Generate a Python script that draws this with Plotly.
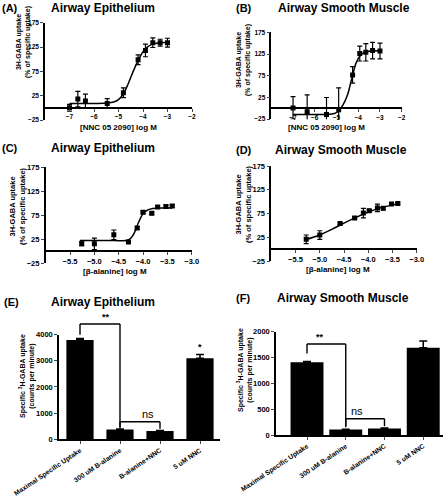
import plotly.graph_objects as go

W, H = 446, 498
FONT = "Liberation Sans, Arial, sans-serif"

# ---------------- data ----------------
# (A) Airway epithelium, NNC 05 2090
A_x = [-7.0, -6.66, -6.35, -5.46, -4.8, -4.2, -3.9, -3.6, -3.3, -3.0]
A_y = [0, 18, 14, 9, 31, 99, 118, 134, 134, 134]
A_err = [7, 16, 14, 10, 10, 10, 13, 10, 7, 9]
A_fit_x = [-7.0, -6.0, -5.5, -5.2, -5.0, -4.8, -4.6, -4.4, -4.2, -4.0, -3.8, -3.6, -3.3, -3.0]
A_fit_y = [9, 9, 10, 12, 17, 29, 50, 75, 97, 115, 126, 131, 134, 134]

# (B) Airway smooth muscle, NNC 05 2090
B_x = [-7.0, -6.35, -5.46, -4.9, -4.26, -3.93, -3.65, -3.34, -3.0]
B_y = [1, -8, -14, -3, 77, 126, 129, 133, 132]
B_err = [26, 39, 39, 50, 19, 17, 20, 19, 18]
B_fit_x = [-7.0, -6.0, -5.4, -5.1, -4.9, -4.7, -4.5, -4.3, -4.1, -3.9, -3.7, -3.4, -3.0]
B_fit_y = [-14, -14, -14, -12, -6, 8, 30, 68, 104, 122, 129, 132, 132]

# (C) Airway epithelium, beta-alanine
C_x = [-5.26, -5.0, -4.6, -4.3, -4.12, -4.0, -3.82, -3.7, -3.53, -3.4]
C_y = [15, 15, 34, 19, 48, 81, 79, 92, 93, 94]
C_err = [4, 12, 10, 2, 3, 3, 3, 3, 3, 3]
C_fit_x = [-5.3, -5.0, -4.6, -4.3, -4.2, -4.1, -4.0, -3.9, -3.8, -3.6, -3.4]
C_fit_y = [22, 22, 22, 23, 34, 58, 78, 86, 89, 90, 90]

# (D) Airway smooth muscle, beta-alanine
D_x = [-5.28, -5.0, -4.58, -4.28, -4.1, -3.98, -3.81, -3.69, -3.52, -3.39]
D_y = [21, 30, 54, 66, 76, 81, 87, 86, 95, 96]
D_err = [9, 9, 2, 2, 10, 3, 8, 3, 2, 2]
D_fit_x = [-5.3, -5.0, -4.75, -4.5, -4.25, -4.0, -3.75, -3.5, -3.4]
D_fit_y = [20, 30, 42, 55, 67, 78, 87, 93, 95]

# (E)/(F) bar charts
bar_labels = ["Maximal Specific Uptake", "300 uM B-alanine", "B-alanine+NNC", "5 uM NNC"]
E_vals = [3790, 375, 320, 3090]
E_err = [60, 20, 15, 150]
F_vals = [1410, 105, 125, 1690]
F_err = [15, 8, 12, 130]

curve_ticks_A = [-7, -6, -5, -4, -3, -2]
curve_ticks_C = [-5.5, -5.0, -4.5, -4.0, -3.5, -3.0]
pct_ticks = [-25, 25, 75, 125, 175]

# ---------------- helpers ----------------
def fx(px):
    return px / W

def fy(py):
    return 1 - py / H

fig = go.Figure()
geom = {}

def curve_panel(n, xs, ys, errs, fx_, fy_, xdom, ydom, xrange, xticks, xfmt, zero_py, tsize):
    xa = "x" if n == 1 else f"x{n}"
    ya = "y" if n == 1 else f"y{n}"
    fig.add_trace(go.Scatter(x=fx_, y=fy_, mode="lines", line=dict(color="black", width=1.5, shape="spline"),
                             xaxis=xa, yaxis=ya, showlegend=False, hoverinfo="skip"))
    fig.add_trace(go.Scatter(x=xs, y=ys, mode="markers",
                             marker=dict(symbol="square", size=5, color="black"),
                             error_y=dict(type="data", array=errs, color="black", thickness=1.2, width=2.5),
                             xaxis=xa, yaxis=ya, showlegend=False, hoverinfo="skip"))
    xk = "xaxis" if n == 1 else f"xaxis{n}"
    yk = "yaxis" if n == 1 else f"yaxis{n}"
    fig.layout[xk] = dict(domain=[fx(xdom[0]), fx(xdom[1])], range=xrange, anchor="free",
                          position=fy(zero_py), tickvals=xticks, tickformat=xfmt, automargin=False,
                          ticks="outside", ticklen=3, tickwidth=1.3, showline=True, linewidth=1.5,
                          linecolor="black", showgrid=False, zeroline=False,
                          tickfont=dict(family=FONT, size=tsize, color="black", weight="bold"))
    fig.layout[yk] = dict(domain=[fy(ydom[1]), fy(ydom[0])], range=[-25, 175], anchor=xa,
                          tickvals=pct_ticks, ticks="outside", ticklen=3, tickwidth=1.3, automargin=False,
                          showline=True, linewidth=1.5, linecolor="black", showgrid=False,
                          zeroline=False, tickfont=dict(family=FONT, size=tsize, color="black", weight="bold"))

curve_panel(1, A_x, A_y, A_err, A_fit_x, A_fit_y, (45, 192), (22.7, 120), [-8, -2], curve_ticks_A, "d", 107.8, 6.5)
curve_panel(2, B_x, B_y, B_err, B_fit_x, B_fit_y, (271.3, 401.7), (32.3, 119.2), [-8, -2], curve_ticks_A, "d", 108.3, 6.5)
curve_panel(3, C_x, C_y, C_err, C_fit_x, C_fit_y, (45.7, 191.7), (167.3, 263), [-6, -3], curve_ticks_C, ".1f", 251, 7.5)
curve_panel(4, D_x, D_y, D_err, D_fit_x, D_fit_y, (271.3, 416.7), (166, 261.2), [-6, -3], curve_ticks_C, ".1f", 249.3, 7.5)

def bar_panel(n, vals, errs, xdom, ydom, xrange, yrange, ytick, width):
    xa, ya = f"x{n}", f"y{n}"
    geom[n] = (xdom, ydom, xrange, yrange)
    pos = list(range(len(vals)))
    fig.add_trace(go.Bar(x=pos, y=vals, width=width, marker=dict(color="black", line=dict(width=0)),
                         error_y=dict(type="data", symmetric=False, array=errs, arrayminus=[0] * len(errs),
                                      color="black", thickness=1.5, width=4),
                         xaxis=xa, yaxis=ya, showlegend=False, hoverinfo="skip"))
    fig.layout[f"xaxis{n}"] = dict(domain=[fx(xdom[0]), fx(xdom[1])], range=xrange, anchor=ya,
                                   tickvals=pos, ticktext=bar_labels, tickangle=-34, automargin=False,
                                   ticks="outside", ticklen=3, tickwidth=1.3, showline=True, linewidth=1.5,
                                   linecolor="black", showgrid=False, zeroline=False,
                                   tickfont=dict(family=FONT, size=6.8, color="black", weight="bold"))
    fig.layout[f"yaxis{n}"] = dict(domain=[fy(ydom[1]), fy(ydom[0])], range=yrange, anchor=xa,
                                   dtick=ytick, ticks="outside", ticklen=3, tickwidth=1.3, automargin=False,
                                   showline=True, linewidth=1.5, linecolor="black", showgrid=False,
                                   zeroline=False,
                                   tickfont=dict(family=FONT, size=7.5, color="black", weight="bold"))

bar_panel(5, E_vals, E_err, (59, 220), (334.5, 439.3), [-0.525, 3.5], [0, 4000], 1000, 0.68)
bar_panel(6, F_vals, F_err, (276, 443), (331.7, 435), [-0.8, 3.51], [0, 2000], 500, 0.85)

# map data values of bar panels to paper fractions (so brackets can sit above the axis range)
def to_paper(n, x, y):
    xdom, ydom, xr, yr = geom[n]
    px = xdom[0] + (x - xr[0]) / (xr[1] - xr[0]) * (xdom[1] - xdom[0])
    py = ydom[1] - (y - yr[0]) / (yr[1] - yr[0]) * (ydom[1] - ydom[0])
    return fx(px), fy(py)

shapes = []
def bracket(n, x0, x1, y_top, y_left, y_right):
    pts = [(x0, y_left), (x0, y_top), (x1, y_top), (x1, y_right)]
    pp = [to_paper(n, a, b) for a, b in pts]
    for (ax, ay), (bx, by) in zip(pp[:-1], pp[1:]):
        shapes.append(dict(type="line", xref="paper", yref="paper", x0=ax, y0=ay, x1=bx, y1=by,
                           line=dict(color="black", width=1.4)))

bracket(5, 0, 1, 4400, 3990, 420)
bracket(5, 1, 2, 672, 470, 400)
bracket(6, 0, 1, 1762, 1580, 150)
bracket(6, 1, 2, 316, 175, 170)

ann = []
def dtext(n, x, y, t, size=9, bold=True):
    px, py = to_paper(n, x, y)
    ann.append(dict(x=px, y=py, xref="paper", yref="paper", text=t, showarrow=False, yanchor="bottom",
                    font=dict(family=FONT, size=size, color="black", weight="bold" if bold else "normal")))

dtext(5, 0.5, 4400, "**")
dtext(5, 1.5, 672, "ns", size=11, bold=False)
dtext(5, 3, 3240, "*")
dtext(6, 0.5, 1762, "**")
dtext(6, 1.5, 316, "ns", size=11, bold=False)

def ptext(px, py, t, size, anchor="left", angle=0, bold=True):
    ann.append(dict(x=fx(px), y=fy(py), xref="paper", yref="paper", text=t, showarrow=False,
                    xanchor=anchor, yanchor="middle", textangle=angle,
                    font=dict(family=FONT, size=size, color="black", weight="bold" if bold else "normal")))

# panel titles
ptext(0, 8, "(A)", 11)
ptext(49, 8, "Airway Epithelium", 12)
ptext(234, 8, "(B)", 11)
ptext(276, 8, "Airway Smooth Muscle", 12)
ptext(0, 148, "(C)", 11)
ptext(49, 148, "Airway Epithelium", 12)
ptext(234, 150, "(D)", 11)
ptext(273, 150, "Airway Smooth Muscle", 12)
ptext(2, 302, "(E)", 11)
ptext(49, 302, "Airway Epithelium", 12)
ptext(234, 298, "(F)", 11)
ptext(275, 298, "Airway Smooth Muscle", 12)

# axis titles
ylab = "3H-GABA uptake<br>(% of specific uptake)"
ptext(24, 42, ylab, 7, anchor="center", angle=-90)
ptext(244, 60, ylab, 7, anchor="center", angle=-90)
ptext(17, 206, ylab, 7.5, anchor="center", angle=-90)
ptext(243, 204, ylab, 7.5, anchor="center", angle=-90)
ptext(118, 128, "[NNC 05 2090] log M", 8, anchor="center")
ptext(326, 127, "[NNC 05 2090] log M", 8, anchor="center")
ptext(115, 271, "[β-alanine] log M", 8, anchor="center")
ptext(338, 269, "[β-alanine] log M", 8, anchor="center")
blab = "Specific <sup>3</sup>H-GABA uptake<br>(counts per minute)"
ptext(27, 376, blab, 7, anchor="center", angle=-90)
ptext(245, 370, blab, 7, anchor="center", angle=-90)

fig.update_layout(width=W, height=H, margin=dict(l=0, r=0, t=0, b=0),
                  paper_bgcolor="white", plot_bgcolor="white", annotations=ann, shapes=shapes,
                  font=dict(family=FONT, color="black"))

fig.write_html("out.html", config={"displayModeBar": False},
               post_script="document.body.style.margin='0px';")
